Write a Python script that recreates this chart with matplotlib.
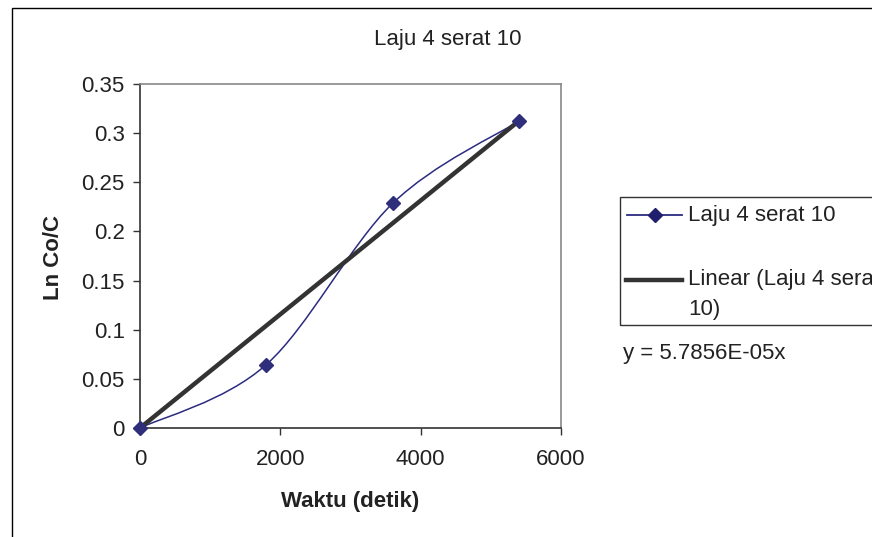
import numpy as np
import matplotlib
matplotlib.use("Agg")
import matplotlib.pyplot as plt
from matplotlib.path import Path
from matplotlib.patches import PathPatch, Rectangle
from matplotlib.lines import Line2D

plt.rcParams['font.family'] = ['Liberation Sans', 'DejaVu Sans']

# Data
waktu = [0, 1800, 3600, 5400]
ln_co_c = [0.0, 0.0645, 0.2285, 0.3122]
slope = 5.7856e-05
series_name = "Laju 4 serat 10"
title = "Laju 4 serat 10"
x_ticks = [0, 2000, 4000, 6000]
y_ticks = [0, 0.05, 0.1, 0.15, 0.2, 0.25, 0.3, 0.35]
y_tick_labels = ["0", "0.05", "0.1", "0.15", "0.2", "0.25", "0.3", "0.35"]

FS = 16
W, H = 872, 537
fig = plt.figure(figsize=(W / 100, H / 100), dpi=100)
fig.patch.set_facecolor("white")

# chart area border (runs off the right and bottom edges)
fig.add_artist(Rectangle((12 / W, -0.1), 2.0, 1 - 8 / H + 0.1,
                         transform=fig.transFigure, fill=False,
                         edgecolor="black", linewidth=1.0))

ax = fig.add_axes([140 / W, 1 - 428 / H, 421 / W, 344 / H])
ax.set_facecolor("none")
ax.set_xlim(0, 6000)
ax.set_ylim(0, 0.35)

# smoothed series line (Catmull-Rom style Bezier segments)
pts = np.column_stack([waktu, ln_co_c]).astype(float)
n = len(pts)
verts = [pts[0]]
codes = [Path.MOVETO]
for i in range(n - 1):
    p0 = pts[i - 1] if i > 0 else pts[i]
    p1 = pts[i]
    p2 = pts[i + 1]
    p3 = pts[i + 2] if i + 2 < n else pts[i + 1]
    c1 = p1 + (p2 - p0) / 6.0
    c2 = p2 - (p3 - p1) / 6.0
    verts += [c1, c2, p2]
    codes += [Path.CURVE4] * 3
ax.add_patch(PathPatch(Path(verts, codes), facecolor="none",
                       edgecolor="#2b2b80", linewidth=1.1, zorder=3))

# trend line through origin
xt = np.array([waktu[0], waktu[-1]], dtype=float)
ax.plot(xt, slope * xt, color="#333333", linewidth=3.2, zorder=4,
        solid_capstyle="butt")

# markers
ax.plot(waktu, ln_co_c, linestyle="none", marker="D", markersize=7.5,
        color="#2e2e7a", markeredgecolor="#2e2e7a", zorder=5, clip_on=False)

ax.set_xticks(x_ticks)
ax.set_xticklabels([str(v) for v in x_ticks])
ax.set_yticks(y_ticks)
ax.set_yticklabels(y_tick_labels)
ax.tick_params(axis="both", direction="out", length=5, width=1,
               color="#333333", labelsize=FS, labelcolor="#222222")
ax.tick_params(axis="x", pad=10)
ax.tick_params(axis="y", pad=6)
for s in ["left", "bottom"]:
    ax.spines[s].set_color("#333333")
    ax.spines[s].set_linewidth(1.2)
for s in ["top", "right"]:
    ax.spines[s].set_color("#888888")
    ax.spines[s].set_linewidth(1.2)

fig.text(448 / W, 1 - 40 / H, title, ha="center", va="center",
         fontsize=FS, color="#222222")
fig.text(53 / W, 1 - 257 / H, "Ln Co/C", ha="center", va="center",
         rotation=90, fontsize=FS, fontweight="bold", color="#222222")
fig.text(350 / W, 1 - 501 / H, "Waktu (detik)", ha="center", va="center",
         fontsize=FS, fontweight="bold", color="#222222")

# legend box
fig.add_artist(Rectangle((620 / W, 1 - 325 / H), 1.0, 128 / H,
                         transform=fig.transFigure, fill=False,
                         edgecolor="#333333", linewidth=1.0))
fig.add_artist(Line2D([627 / W, 682 / W], [1 - 215 / H] * 2,
                      transform=fig.transFigure, color="#2b2b80",
                      linewidth=1.3))
fig.add_artist(Line2D([655 / W], [1 - 215 / H], transform=fig.transFigure,
                      marker="D", markersize=7.5, color="#1f1f6e",
                      linestyle="none"))
fig.add_artist(Line2D([626 / W, 682 / W], [1 - 280 / H] * 2,
                      transform=fig.transFigure, color="#333333",
                      linewidth=3.2))
fig.text(688 / W, 1 - 215 / H, series_name, ha="left", va="center",
         fontsize=FS, color="#222222")
fig.text(688 / W, 1 - 280 / H, "Linear (Laju 4 serat", ha="left",
         va="center", fontsize=FS, color="#222222")
fig.text(688 / W, 1 - 309 / H, "10)", ha="left", va="center",
         fontsize=FS, color="#222222")

fig.text(623 / W, 1 - 354 / H, "y = {:.4E}x".format(slope),
         ha="left", va="center", fontsize=FS, color="#222222")

fig.savefig("out.png", dpi=100, facecolor="white")
